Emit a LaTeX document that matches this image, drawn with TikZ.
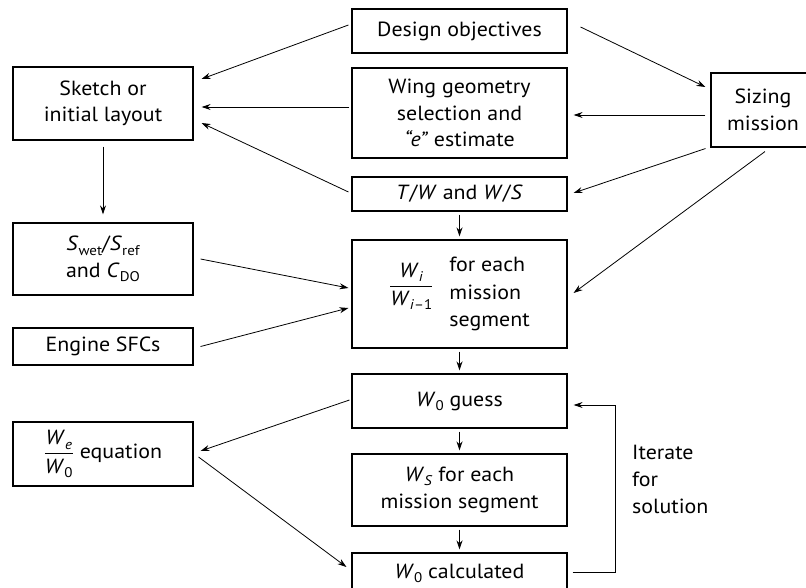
\documentclass[tikz,border=0pt]{standalone}
\usepackage{fontspec}
\setmainfont{PT Sans}[FakeStretch=1.07]
\usepackage{amsmath}
\usetikzlibrary{arrows.meta,calc}
\newcommand\lowsub[1]{\raisebox{-0.4ex}{\fontsize{14}{14}\selectfont #1}}
\newcommand\itw{\textit{W}}
\begin{document}
\begin{tikzpicture}[x=1pt,y=-1pt,
  box/.style={draw, line width=1.1pt, inner sep=0pt, align=center,
    font=\fontsize{20.5}{26.5}\selectfont, minimum width=215pt},
  lbox/.style={box, minimum width=180pt},
  arr/.style={-{Stealth[length=9pt,width=6pt]}, line width=0.8pt},
  lbl/.style={align=left, font=\fontsize{20.5}{27}\selectfont, inner sep=0pt}]
\useasboundingbox (0,0) rectangle (806,588);
% center column
\node[box, minimum height=44pt] (des) at (459.5,31) {Design objectives};
\node[box, minimum height=90pt] (wing) at (459.5,113) {Wing geometry\\selection and\\\textit{``e''} estimate};
\node[box, minimum height=34pt] (tw) at (459.5,194) {\textit{T}/\textit{W} and \textit{W}/\textit{S}};
\node[box, minimum height=108pt] (wi) at (459.5,294)
  {\raisebox{8pt}{$\dfrac{\mbox{\itw\lowsub{\textit{i}}}}{\mbox{\itw\lowsub{\textit{i}--1}}}$}\hspace{16pt}\begin{tabular}{@{}l@{}}for each\\[1pt]mission\\[1pt]segment\end{tabular}};
\node[box, minimum height=54pt] (guess) at (459.5,401) {\itw\lowsub{0} guess};
\node[box, minimum height=72pt] (ws) at (459.5,490) {\itw\lowsub{\textit{S}} for each\\mission segment};
\node[box, minimum height=40pt] (calc) at (459.5,573) {\itw\lowsub{0} calculated};
% left column
\node[lbox, minimum height=73pt] (sketch) at (103,103.5) {Sketch or\\initial layout};
\node[lbox, minimum height=72pt] (swet) at (103,259) {\textit{S}\lowsub{wet}/\textit{S}\lowsub{ref}\\and \textit{C}\lowsub{DO}};
\node[lbox, minimum height=37pt] (eng) at (103,346.5) {Engine SFCs};
\node[lbox, minimum height=64pt] (we) at (103,454)
  {$\dfrac{\mbox{\itw\lowsub{\textit{e}}}}{\mbox{\itw\lowsub{0}}}$\hspace{6pt}equation};
% right
\node[box, minimum width=104pt, minimum height=74pt] (siz) at (763,110) {Sizing\\mission};
\node[lbl, anchor=north west] (iter) at (632,445) {Iterate\\for\\solution};
% connectors
\draw[arr] ($(des.west)+(-3,-6)$) -- ($(sketch.east)+(8,-24.5)$);
\draw[arr] ($(des.east)+(13,-4)$) -- ($(siz.west)+(-5,-23)$);
\draw[arr] ($(wing.west)+(-2,-6)$) -- ($(sketch.east)+(8,3.5)$);
\draw[arr] ($(siz.west)+(-5,5)$) -- ($(wing.east)+(6,2)$);
\draw[arr] ($(tw.west)+(-3,-2)$) -- ($(sketch.east)+(8,19.5)$);
\draw[arr] ($(siz.south west)+(-5,1)$) -- ($(tw.east)+(6,-1)$);
\draw[arr] ($(siz.south)+(2,4)$) -- ($(wi.east)+(6,-1)$);
\draw[arr] ($(sketch.south)+(0,6)$) -- ($(swet.north)+(0,-8)$);
\draw[arr] ($(tw.south)+(0,3)$) -- ($(wi.north)+(0,-3)$);
\draw[arr] ($(swet.east)+(7,0)$) -- ($(wi.west)+(-3,-6)$);
\draw[arr] ($(eng.east)+(7,0)$) -- ($(wi.west)+(-3,14)$);
\draw[arr] ($(wi.south)+(0,3)$) -- ($(guess.north)+(0,-3)$);
\draw[arr] ($(guess.west)+(-2,-1)$) -- ($(we.east)+(7,-3)$);
\draw[arr] ($(we.east)+(5,3)$) -- ($(calc.west)+(-5,-6)$);
\draw[arr] ($(guess.south)+(0,3)$) -- ($(ws.north)+(0,-3)$);
\draw[arr] ($(ws.south)+(0,3)$) -- ($(calc.north)+(0,-3)$);
\draw[arr] ($(calc.east)+(5,-1)$) -- ++(43,0) |- ($(guess.east)+(6,4)$);
\end{tikzpicture}
\end{document}
